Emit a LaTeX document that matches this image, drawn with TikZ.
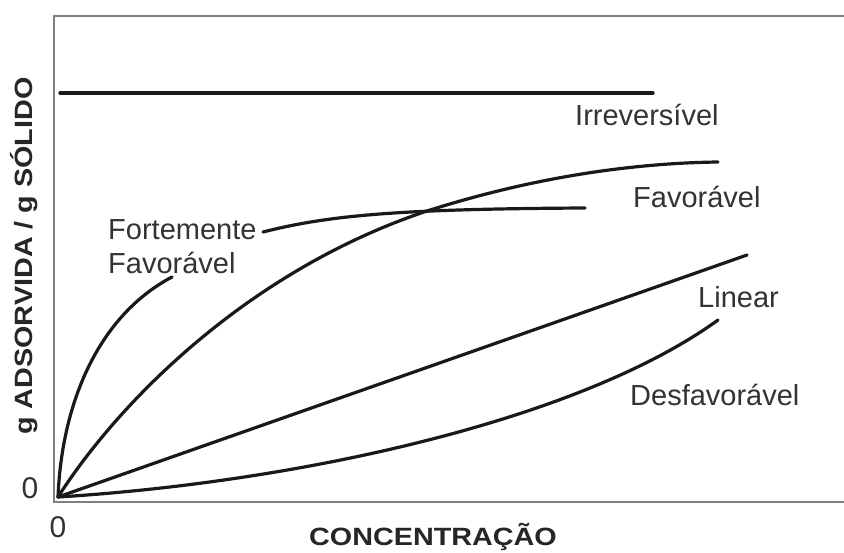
\documentclass[tikz,border=0pt]{standalone}
\usepackage{fontspec}
\usepackage{graphicx}
\setmainfont{Liberation Sans}
\begin{document}
\begin{tikzpicture}[x=1pt,y=-1pt,
  curve/.style={line width=3.2pt, black!90, line cap=round, line join=round},
  framebox/.style={line width=2pt, black!50},
  lbl/.style={inner sep=0pt, text=black!80, font=\fontsize{29}{34}\selectfont, anchor=base west},
  axlbl/.style={inner sep=0pt, text=black!85, font=\bfseries\fontsize{25}{30}\selectfont, anchor=base},
  zerolbl/.style={inner sep=0pt, text=black!80, font=\fontsize{30}{34}\selectfont, anchor=base}]
\useasboundingbox (0,0) rectangle (844,552);
\fill[white] (0,0) rectangle (844,552);
% frame
\coordinate (tr) at (844,16);
\coordinate (tl) at (54,16);
\coordinate (bl) at (54,502);
\coordinate (br) at (844,502);
\draw[framebox] (tr) -- (tl) -- (bl) -- (br);
% curves
\coordinate (o) at (58,497);
\coordinate (irrA) at (60,93);
\coordinate (irrB) at (653,93);
\draw[curve] (irrA) -- (irrB);
\coordinate (linEnd) at (747,255);
\draw[curve] (o) -- (linEnd);
% Fortemente favoravel
\coordinate (ffEnd) at (172,277);
\draw[curve] (o) .. controls (62,400) and (100,315) .. (ffEnd);
\coordinate (ffA) at (263,232);
\coordinate (ffB) at (585,208);
\draw[curve] (ffA) .. controls (330,215) and (400,209) .. (ffB);
% Favoravel
\coordinate (fvMid) at (427,211);
\coordinate (fvEnd) at (718,162);
\draw[curve] (o) .. controls (120,400) and (250,270) .. (fvMid)
                 .. controls (540,175) and (640,163) .. (fvEnd);
% Desfavoravel
\coordinate (dfEnd) at (718,320);
\draw[curve] (o) .. controls (300,482) and (580,420) .. (dfEnd);
% labels
\node[lbl] (irr) at (575,125) {Irreversível};
\node[lbl] (fav) at (633,207) {Favorável};
\node[lbl] (lin) at (698,307) {Linear};
\node[lbl] (desf) at (630,405) {Desfavorável};
\node[lbl] (fort1) at (108,239) {Fortemente};
\node[lbl] (fort2) at (108,273) {Favorável};
\node[axlbl] (xl) at (433,545) {\scalebox{1.15}[1]{CONCENTRAÇÃO}};
\node[axlbl, rotate=90] (yl) at (32,256) {\scalebox{1.15}[1]{g ADSORVIDA / g SÓLIDO}};
\node[zerolbl] (z1) at (30,498) {0};
\node[zerolbl] (z2) at (58,537) {0};
\end{tikzpicture}
\end{document}
